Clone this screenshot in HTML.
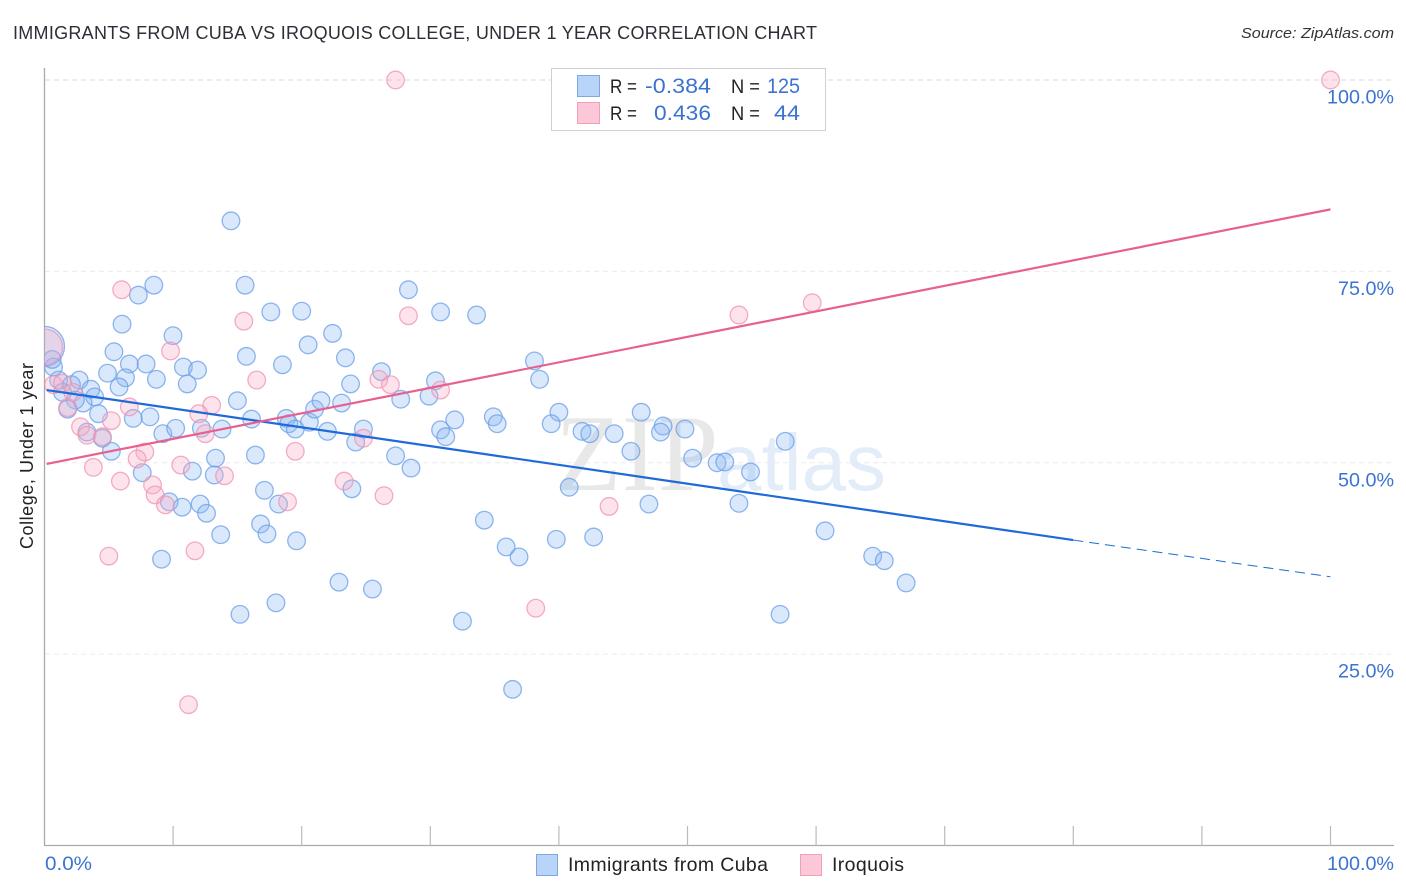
<!DOCTYPE html>
<html lang="en">
<head>
<meta charset="utf-8">
<title>Immigrants from Cuba vs Iroquois College, Under 1 Year Correlation Chart</title>
<style>
html,body{margin:0;padding:0;background:#fff;}
body{width:1406px;height:892px;overflow:hidden;}
svg{display:block;font-family:"Liberation Sans",sans-serif;}
</style>
</head>
<body>
<svg id="chart" xmlns="http://www.w3.org/2000/svg" width="1406" height="892" viewBox="0 0 1406 892">
  <defs>
    <clipPath id="plot-clip"><rect x="44.5" y="60" width="1350" height="786"/></clipPath>
  </defs>
  <rect x="0" y="0" width="1406" height="892" fill="#ffffff"/>
  <text x="13" y="39" font-size="18" fill="#2b2f36" textLength="804" lengthAdjust="spacing">IMMIGRANTS FROM CUBA VS IROQUOIS COLLEGE, UNDER 1 YEAR CORRELATION CHART</text>
  <text x="1241" y="38" font-size="15" font-style="italic" fill="#333333" textLength="153" lengthAdjust="spacingAndGlyphs">Source: ZipAtlas.com</text>

  <g>
    <text x="555" y="490" font-family="'Liberation Serif',serif" font-size="109" fill="#e8e8e8">ZIP</text>
    <text x="717" y="490" font-size="80" fill="#e3ecf9">atlas</text>
  </g>

  <g id="grid"></g>
  <g id="y-labels"></g>
  <g id="axes"></g>
  <g id="x-labels"></g>

  <text transform="translate(33,456) rotate(-90)" font-size="18" fill="#222222" text-anchor="middle" textLength="186">College, Under 1 year</text>

  <g id="points-cuba" clip-path="url(#plot-clip)"></g>
  <g id="points-iroquois" clip-path="url(#plot-clip)"></g>
  <g id="trends"></g>

  <g>
    <rect x="551.5" y="68.5" width="274" height="62" fill="#ffffff" stroke="#d0d0d0" stroke-width="1"/>
    <rect x="577.5" y="75.5" width="22" height="21" fill="#b8d4f8" stroke="#7ea8e4" stroke-width="1"/>
    <rect x="577.5" y="102.5" width="22" height="21" fill="#fcc8d8" stroke="#f0a0ba" stroke-width="1"/>
    <text x="610" y="93" font-size="19" fill="#222222" textLength="27" lengthAdjust="spacingAndGlyphs">R =</text>
    <text x="645" y="93" font-size="21.5" fill="#3b73d1" textLength="66" lengthAdjust="spacingAndGlyphs">-0.384</text>
    <text x="731" y="93" font-size="19" fill="#222222" textLength="29" lengthAdjust="spacingAndGlyphs">N =</text>
    <text x="767" y="93" font-size="21.5" fill="#3b73d1" textLength="33" lengthAdjust="spacingAndGlyphs">125</text>
    <text x="610" y="120" font-size="19" fill="#222222" textLength="27" lengthAdjust="spacingAndGlyphs">R =</text>
    <text x="654" y="120" font-size="21.5" fill="#3b73d1" textLength="57" lengthAdjust="spacingAndGlyphs">0.436</text>
    <text x="731" y="120" font-size="19" fill="#222222" textLength="29" lengthAdjust="spacingAndGlyphs">N =</text>
    <text x="774" y="120" font-size="21.5" fill="#3b73d1" textLength="26" lengthAdjust="spacingAndGlyphs">44</text>
  </g>

  <g>
    <g>
      <rect x="536.5" y="854.5" width="21" height="21" fill="#b8d4f8" stroke="#7ea8e4" stroke-width="1"/>
      <text x="568" y="871" font-size="19.5" fill="#222222" textLength="200">Immigrants from Cuba</text>
    </g>
    <g>
      <rect x="800.5" y="854.5" width="21" height="21" fill="#fcc8d8" stroke="#f0a0ba" stroke-width="1"/>
      <text x="832" y="871" font-size="19.5" fill="#222222" textLength="72">Iroquois</text>
    </g>
  </g>
</svg>
<script>
const xTicks = [0,10,20,30,40,50,60,70,80,90,100];
const yGridValues = [25,50,75,100];
const yTickLabels = ["25.0%","50.0%","75.0%","100.0%"];
const xTickLabels = ["0.0%","100.0%"];

const cubaX = [6.03,9.99,22.4,20.5,15.7,18.5,23.4,5.4,6.6,7.9,4.9,6.3,8.7,5.8,10.8,11.9,11.1,2.7,1.1,2.1,3.6,3.9,3.0,2.4,1.4,1.8,4.2,6.9,8.2,3.3,4.5,5.2,9.2,10.2,12.2,13.8,15.0,16.1,18.8,19.0,19.5,20.6,21.0,21.5,23.1,22.0,24.2,23.8,7.6,11.5,13.3,13.2,16.4,17.1,18.2,23.9,9.7,10.7,12.1,12.6,13.7,16.8,17.3,19.6,9.1,22.9,18.0,15.2,25.5,32.5,36.4,57.2,14.5,15.6,8.5,7.3,17.6,20.0,28.3,30.8,33.6,0.7,0.6,24.8,26.2,27.7,30.4,29.9,38.1,38.5,31.9,30.8,31.2,34.9,35.2,40.0,39.4,41.8,42.4,44.3,46.4,45.6,48.1,47.9,27.3,28.5,40.8,47.0,34.2,39.8,42.7,35.9,36.9,49.8,50.4,52.3,52.9,54.9,57.6,54.0,60.7,64.4,65.3,67.0];
const cubaY = [68.1,66.6,66.9,65.4,63.9,62.8,63.7,64.5,62.9,62.9,61.7,61.1,60.9,59.9,62.5,62.1,60.3,60.8,60.8,60.2,59.6,58.6,57.8,58.2,59.2,57.0,56.4,55.8,56.0,54.0,53.2,51.5,53.8,54.5,54.5,54.4,58.1,55.7,55.8,55.1,54.4,55.3,57.0,58.1,57.8,54.1,52.7,60.3,48.7,48.9,50.6,48.4,51.0,46.4,44.6,46.6,44.9,44.2,44.6,43.4,40.6,42.0,40.7,39.8,37.4,34.4,31.7,30.2,33.5,29.3,20.4,30.2,81.6,73.2,73.2,71.9,69.7,69.8,72.6,69.7,69.3,62.5,63.5,54.4,61.9,58.3,60.7,58.7,63.3,60.9,55.6,54.3,53.4,56.0,55.1,56.6,55.1,54.1,53.8,53.8,56.6,51.5,54.8,54.0,50.9,49.3,46.8,44.6,42.5,40.0,40.3,39.0,37.7,54.4,50.6,50.0,50.1,48.8,52.8,44.7,41.1,37.8,37.2,34.3];
const cubaClusterX = [0];
const cubaClusterY = [65.2];

const iroquoisX = [6.0,15.5,9.8,16.5,0.7,1.4,2.2,1.8,6.6,13.0,12.0,5.2,2.8,3.3,4.5,12.5,19.5,7.8,7.2,3.8,10.6,14.0,5.9,8.4,8.6,9.4,18.9,23.3,5.0,11.7,11.2,26.0,26.9,30.8,24.8,26.4,43.9,38.2,28.3,54.0,59.7,27.3,100];
const iroquoisY = [72.6,68.5,64.6,60.8,60.2,60.4,59.2,57.2,57.3,57.5,56.4,55.5,54.7,53.6,53.4,53.8,51.5,51.4,50.5,49.4,49.7,48.3,47.6,47.1,45.8,44.5,44.9,47.6,37.8,38.5,18.4,60.9,60.2,59.5,53.2,45.7,44.3,31.0,69.2,69.3,70.9,100,100];
const iroquoisClusterX = [0];
const iroquoisClusterY = [65.1];

const cubaTrendX = [0.17,80];
const cubaTrendY = [59.5,39.9];
const cubaTrendDashX = [80,100];
const cubaTrendDashY = [39.9,35.1];
const iroquoisTrendX = [0.17,100];
const iroquoisTrendY = [49.85,83.1];

const NS = 'http://www.w3.org/2000/svg';
function sx(v){ return 44.5 + v * 12.86; }
function sy(v){ return 845.5 - v * 7.655; }
function labelWidth(s){ return s.length >= 6 ? 67 : (s.length === 5 ? 56 : 47); }
function make(tag, attrs, parent){
  const el = document.createElementNS(NS, tag);
  for (const k in attrs) el.setAttribute(k, attrs[k]);
  parent.appendChild(el);
  return el;
}

const grid = document.getElementById('grid');
yGridValues.forEach(function(v, i){
  const line = make('line', {x1:45, x2:1394, y1:sy(v), y2:sy(v), stroke:(v===100?'#d8d8d8':'#ebebeb'), 'stroke-width':1, 'stroke-dasharray':'5 4'}, grid);
  
  
});

const yLabels = document.getElementById('y-labels');
yGridValues.forEach(function(v, i){
  const w = labelWidth(yTickLabels[i]);
  const t = make('text', {x:1394-w, y:sy(v)+23.5, 'font-size':19, fill:'#3b73d1', textLength:w, lengthAdjust:'spacingAndGlyphs'}, yLabels);
  
  
  t.textContent = yTickLabels[i];
});

const axes = document.getElementById('axes');
const yAxis = make('line', {x1:44.5, x2:44.5, y1:68, y2:846, stroke:'#aaaaaa', 'stroke-width':1.3}, axes);


const xAxis = make('line', {x1:44, x2:1394, y1:845.5, y2:845.5, stroke:'#aaaaaa', 'stroke-width':1.3}, axes);


xTicks.forEach(function(v){
  if (v === 0) return;
  const tick = make('line', {x1:sx(v), x2:sx(v), y1:826, y2:845.5, stroke:'#bbbbbb', 'stroke-width':1.2}, axes);
  
  
});

const xLabels = document.getElementById('x-labels');
const xl0 = make('text', {x:45, y:870, 'font-size':19, fill:'#3b73d1', textLength:labelWidth(xTickLabels[0]), lengthAdjust:'spacingAndGlyphs'}, xLabels);


xl0.textContent = xTickLabels[0];
const xl1 = make('text', {x:1394-labelWidth(xTickLabels[1]), y:870, 'font-size':19, fill:'#3b73d1', textLength:labelWidth(xTickLabels[1]), lengthAdjust:'spacingAndGlyphs'}, xLabels);


xl1.textContent = xTickLabels[1];

function drawPoints(parent, xs, ys, r, fill, stroke, name){
  xs.forEach(function(v, i){
    const c = make('circle', {cx:sx(v), cy:sy(ys[i]), r:r, fill:fill, 'fill-opacity':0.32, stroke:stroke, 'stroke-opacity':0.75, 'stroke-width':1.3}, parent);
    
    
  });
}
const cubaLayer = document.getElementById('points-cuba');
const iroquoisLayer = document.getElementById('points-iroquois');
drawPoints(cubaLayer, cubaClusterX, cubaClusterY, 20, '#8ab6f2', '#6a9ee8', 'cuba-cluster-point');
drawPoints(cubaLayer, cubaX, cubaY, 8.8, '#8ab6f2', '#6a9ee8', 'cuba-point');
drawPoints(iroquoisLayer, iroquoisClusterX, iroquoisClusterY, 18, '#f8aac4', '#f092b0', 'iroquois-cluster-point');
drawPoints(iroquoisLayer, iroquoisX, iroquoisY, 8.8, '#f8aac4', '#f092b0', 'iroquois-point');

const trends = document.getElementById('trends');
const t1 = make('line', {x1:sx(cubaTrendX[0]), y1:sy(cubaTrendY[0]), x2:sx(cubaTrendX[1]), y2:sy(cubaTrendY[1]), stroke:'#1f6ad8', 'stroke-width':2.2}, trends);


const t2 = make('line', {x1:sx(cubaTrendDashX[0]), y1:sy(cubaTrendDashY[0]), x2:sx(cubaTrendDashX[1]), y2:sy(cubaTrendDashY[1]), stroke:'#1f6ad8', 'stroke-width':1, 'stroke-dasharray':'10 6'}, trends);


const t3 = make('line', {x1:sx(iroquoisTrendX[0]), y1:sy(iroquoisTrendY[0]), x2:sx(iroquoisTrendX[1]), y2:sy(iroquoisTrendY[1]), stroke:'#e8608f', 'stroke-width':2.2}, trends);


</script>
</body>
</html>
